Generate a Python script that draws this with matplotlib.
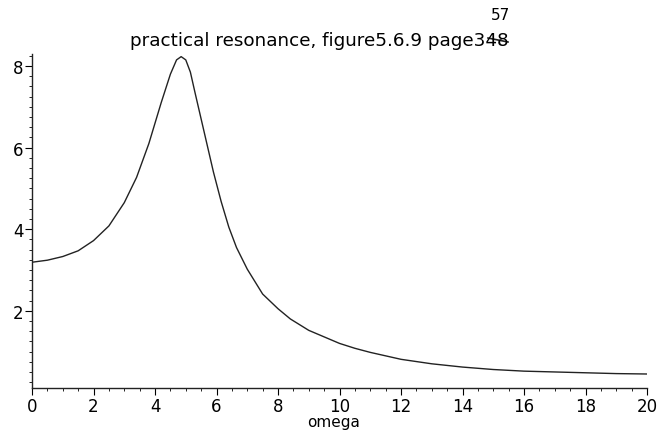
import numpy as np
import matplotlib
matplotlib.use("Agg")
import matplotlib.pyplot as plt
from matplotlib.lines import Line2D
from matplotlib.ticker import MultipleLocator

# values
omega = [0.0, 0.5, 1.0, 1.5, 2.0, 2.5, 3.0, 3.4, 3.8, 4.2, 4.5, 4.7, 4.85,
         5.0, 5.15, 5.3, 5.5, 5.7, 5.9, 6.15, 6.4, 6.65, 7.0, 7.5, 8.0, 8.4,
         9.0, 9.5, 10.0, 10.5, 11.0, 12.0, 13.0, 14.0, 15.0, 16.0, 17.0, 18.0,
         19.0, 20.0]
amp = [3.19, 3.24, 3.33, 3.47, 3.72, 4.08, 4.65, 5.27, 6.1, 7.1, 7.8, 8.15,
       8.23, 8.15, 7.85, 7.35, 6.7, 6.05, 5.4, 4.68, 4.05, 3.55, 3.02, 2.41,
       2.05, 1.8, 1.52, 1.36, 1.2, 1.08, 0.98, 0.81, 0.7, 0.62, 0.56, 0.52,
       0.5, 0.48, 0.46, 0.45]
xticks = [0, 2, 4, 6, 8, 10, 12, 14, 16, 18, 20]
yticks = [2, 4, 6, 8]

plt.rcParams['font.family'] = ['DejaVu Sans']

fig = plt.figure(figsize=(6.59, 4.31), dpi=100)
ax = fig.add_axes([0.0486, 0.0968, 0.9332, 0.7761])

ax.plot(omega, amp, color='#222222', lw=1.0)

ax.set_xlim(0, 20)
ax.set_ylim(0.1, 8.3)
ax.set_xticks(xticks)
ax.set_yticks(yticks)
ax.xaxis.set_minor_locator(MultipleLocator(0.5))
ax.yaxis.set_minor_locator(MultipleLocator(0.25))
ax.tick_params(axis='both', which='major', length=5, width=0.8,
               labelsize=12, direction='out', pad=1)
ax.tick_params(axis='both', which='minor', length=2, width=0.6, direction='out')
ax.tick_params(axis='x', pad=1.5)
for s in ['top', 'right']:
    ax.spines[s].set_visible(False)
for s in ['left', 'bottom']:
    ax.spines[s].set_linewidth(1.0)
    ax.spines[s].set_color('#222222')

fig.text(334 / 659, 1 - 415 / 431, 'omega', ha='center', va='top', fontsize=11)
fig.text(130 / 659, 1 - 41 / 431, 'practical resonance, figure5.6.9 page348',
         ha='left', va='center', fontsize=13.2)
# handwritten correction above the page number
fig.text(500 / 659, 1 - 15 / 431, '57', ha='center', va='center', fontsize=11)
fig.add_artist(Line2D([488 / 659, 508 / 659], [1 - 39 / 431, 1 - 43 / 431],
                      transform=fig.transFigure, color='#222222', lw=1.2))

fig.savefig('out.png', dpi=100)
